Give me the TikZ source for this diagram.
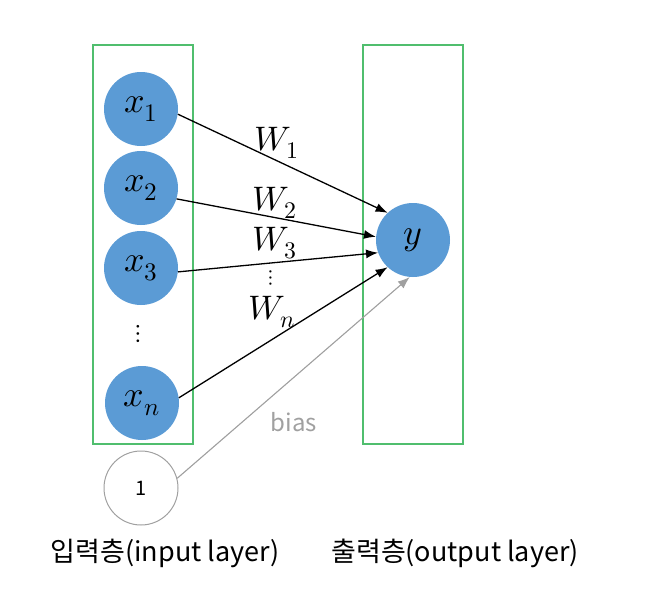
\documentclass[tikz,border=0pt]{standalone}
\usepackage{fontspec}
\usepackage{unicode-math}
\setmainfont{Noto Sans CJK KR}
\setmathfont{Latin Modern Math}
\usetikzlibrary{arrows.meta}

\definecolor{nodeblue}{RGB}{91,155,213}
\definecolor{boxgreen}{RGB}{80,190,110}
\definecolor{biasgray}{RGB}{160,160,160}

\tikzset{
  neuron/.style={circle,fill=nodeblue,minimum size=74pt,inner sep=0pt,font=\fontsize{36}{40}\selectfont},
  layer/.style={draw=boxgreen,line width=1.5pt},
  conn/.style={-{Latex[length=12pt,width=9pt]},line width=1.3pt},
  weight/.style={font=\fontsize{34}{38}\selectfont}
}

\begin{document}
\begin{tikzpicture}[x=1pt,y=-1pt]

   \useasboundingbox (0,0) rectangle (650,594);

   \draw[layer] (93,45) rectangle (193,444);
   \draw[layer] (363,45) rectangle (463,444);

   \foreach \i/\yy in {1/109,2/188,3/268}
   {
      \node[neuron] (X\i) at (141,\yy) {$x_\i$};
   }
   \node[neuron] (Xn) at (142,403) {$x_n$};
   \node[font=\fontsize{26}{30}\selectfont] (Xdots) at (138,334) {$\vdots$};

   \node[neuron] (Y) at (413,240) {$y$};
   \node[circle,draw=biasgray,line width=1pt,minimum size=74pt,inner sep=0pt,
         font=\fontsize{20}{22}\selectfont] (B) at (141,488) {1};

   \foreach \s/\t in {X1.-8/Y.133,X2.-17/Y.175,X3.-6/Y.200,Xn.8/Y.227}
   {
      \draw[conn] (\s) -- (\t);
   }
   \draw[conn,draw=biasgray,fill=biasgray,line width=1.1pt] (B.15) -- (Y.265);

   \node[weight] (W1) at (277,143) {$W_1$};
   \node[weight] (W2) at (275,203) {$W_2$};
   \node[weight] (W3) at (275,243) {$W_3$};
   \node[font=\fontsize{22}{26}\selectfont] (Wdots) at (271,278) {$\vdots$};
   \node[weight] (Wn) at (272,312) {$W_n$};
   \node[text=biasgray,font=\fontsize{24}{28}\selectfont] (bias) at (294,422) {bias};

   \node[font=\fontsize{27}{30}\selectfont] (inlabel) at (165,553) {입력층(input layer)};
   \node[font=\fontsize{27}{30}\selectfont] (outlabel) at (455,553) {출력층(output layer)};
\end{tikzpicture}
\end{document}
